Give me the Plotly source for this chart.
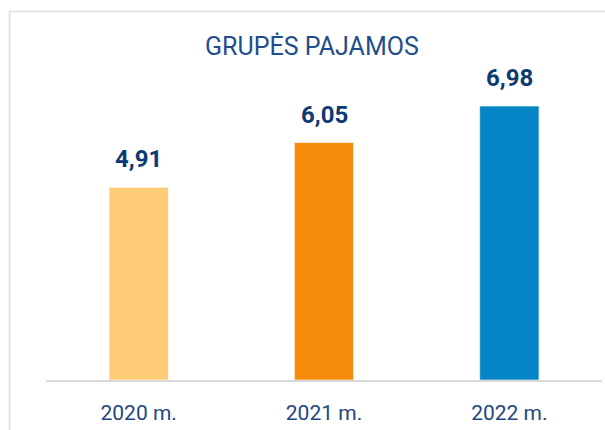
import plotly.graph_objects as go

categories = ["2020 m.", "2021 m.", "2022 m."]
values = [4.91, 6.05, 6.98]
bar_colors = ["#FECB77", "#F58D0A", "#0585C6"]
title_text = "GRUPĖS PAJAMOS"

FONT = "Roboto"

fig = go.Figure()
fig.add_trace(go.Bar(
    x=categories,
    y=values,
    marker=dict(color=bar_colors, line=dict(color="rgba(255,255,255,0.6)", width=1)),
    hoverinfo="skip",
))

for c, v in zip(categories, values):
    fig.add_annotation(
        x=c, y=v, xref="x", yref="y",
        text=f"<b>{v:.2f}</b>".replace(".", ","),
        showarrow=False, yanchor="bottom", yshift=12,
        font=dict(family=FONT, size=24, color="#0E3A73"),
    )

fig.add_annotation(
    x=0.478, y=1.01, xref="paper", yref="paper",
    text=title_text, showarrow=False, yanchor="bottom",
    font=dict(family=FONT, size=25, color="#1F4E8C"),
)

# outer light frame
fig.add_shape(type="rect", xref="paper", yref="paper",
              x0=-0.0656, x1=1.2, y0=-0.3, y1=1.1736,
              line=dict(color="#E4E4E4", width=2), layer="below")

fig.update_layout(
    width=605, height=430,
    margin=dict(l=46, r=3, t=66, b=50),
    paper_bgcolor="white", plot_bgcolor="white",
    showlegend=False,
    bargap=0.68,
    xaxis=dict(
        showline=True, linecolor="#D9D9D9", linewidth=2,
        showgrid=False, ticks="", ticklabelstandoff=13,
        tickfont=dict(family=FONT, size=21, color="#1F477F"),
    ),
    yaxis=dict(range=[0, 8], visible=False, showgrid=False, zeroline=False),
)

fig.write_html("out.html", config={"displayModeBar": False},
               post_script="document.body.style.margin='0';")
